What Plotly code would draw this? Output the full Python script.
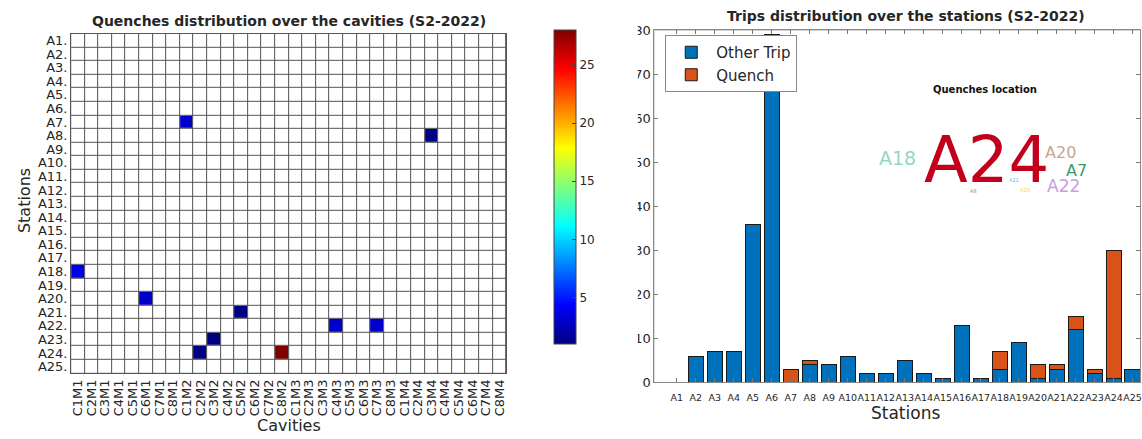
import plotly.graph_objects as go

W, H = 1142, 439
FONT = "DejaVu Sans"
TXT = "#262626"

# ---- data -------------------------------------------------------------
stations = ["A1", "A2", "A3", "A4", "A5", "A6", "A7", "A8", "A9", "A10",
            "A11", "A12", "A13", "A14", "A15", "A16", "A17", "A18", "A19",
            "A20", "A21", "A22", "A23", "A24", "A25"]
station_labels = [s + "." for s in stations]

cavities = ["C1M1", "C2M1", "C3M1", "C4M1", "C5M1", "C6M1", "C7M1", "C8M1",
            "C1M2", "C2M2", "C3M2", "C4M2", "C5M2", "C6M2", "C7M2", "C8M2",
            "C1M3", "C2M3", "C3M3", "C4M3", "C5M3", "C6M3", "C7M3", "C8M3",
            "C1M4", "C2M4", "C3M4", "C4M4", "C5M4", "C6M4", "C7M4", "C8M4"]

# quenches per (station, cavity)
quench_station = ["A7", "A8", "A18", "A20", "A21", "A22", "A22", "A23", "A24", "A24"]
quench_cavity = ["C1M2", "C3M4", "C1M1", "C6M1", "C5M2", "C4M3", "C7M3", "C3M2", "C2M2", "C8M2"]
quench_count = [3, 1, 4, 3, 1, 3, 3, 1, 1, 28]

# trips per station
other_trip = [0, 6, 7, 7, 36, 79, 0, 4, 4, 6, 2, 2, 5, 2, 1, 13, 1, 3, 9, 1, 3, 12, 2, 1, 3]
quench_trip = [0, 0, 0, 0, 0, 0, 3, 1, 0, 0, 0, 0, 0, 0, 0, 0, 0, 4, 0, 3, 1, 3, 1, 29, 0]

# word cloud of quench locations
cloud_words = ["A24", "A18", "A20", "A7", "A22", "A21", "A23", "A8"]
cloud_sizes = [64, 19, 16, 16, 17, 5, 5, 5]
cloud_colors = ["#c2001c", "#93d9bd", "#c9a58a", "#3c9a70", "#c9a0dc", "#4cc4e0", "#dede5a", "#b08050"]
cloud_xy = [(988, 158), (899, 156), (1062, 151), (1078, 169), (1065, 185),
            (1016, 179), (1027, 189), (975, 191)]


def px(x):
    return x / W


def py(y):
    return 1 - y / H


# ---- matrices ---------------------------------------------------------
z_vals = [[None for _ in cavities] for _ in stations]
for s, c, n in zip(quench_station, quench_cavity, quench_count):
    z_vals[stations.index(s)][cavities.index(c)] = n
z_blank = [[0 for _ in cavities] for _ in stations]

jet = [[0.0, "rgb(0,0,128)"], [0.125, "rgb(0,0,255)"], [0.375, "rgb(0,255,255)"],
       [0.625, "rgb(255,255,0)"], [0.875, "rgb(255,0,0)"], [1.0, "rgb(128,0,0)"]]

fig = go.Figure()

fig.add_trace(go.Heatmap(
    z=z_blank, x=cavities, y=station_labels, xaxis="x", yaxis="y",
    colorscale=[[0, "white"], [1, "white"]], showscale=False,
    xgap=1, ygap=1, hoverinfo="skip"))

fig.add_trace(go.Heatmap(
    z=z_vals, x=cavities, y=station_labels, xaxis="x", yaxis="y",
    colorscale=jet, zmin=1, zmax=28, xgap=1, ygap=1, hoverongaps=False,
    colorbar=dict(
        x=px(554), xanchor="left", xpad=0,
        y=py(349), yanchor="bottom", ypad=0,
        len=(349 - 24) / H, lenmode="fraction",
        thickness=22, thicknessmode="pixels",
        outlinewidth=1, outlinecolor="#444",
        tickvals=[5, 10, 15, 20, 25], ticks="inside", ticklen=4,
        tickcolor="#444", tickfont=dict(family=FONT, size=12, color=TXT)),
))

fig.add_trace(go.Bar(
    x=stations, y=other_trip, name="Other Trip", xaxis="x2", yaxis="y2",
    marker=dict(color="#0072BD", line=dict(color="#1a1a1a", width=1)), width=0.8))
fig.add_trace(go.Bar(
    x=stations, y=quench_trip, name="Quench", xaxis="x2", yaxis="y2",
    marker=dict(color="#D95319", line=dict(color="#1a1a1a", width=1)), width=0.8))

annotations = [
    dict(text="<b>Quenches distribution over the cavities (S2-2022)</b>",
         x=px(289), y=py(14), font=dict(size=14, color=TXT)),
    dict(text="<b>Trips distribution over the stations (S2-2022)</b>",
         x=px(907), y=py(9), font=dict(size=14, color=TXT)),
    dict(text="Stations", x=px(23), y=py(200), textangle=-90,
         font=dict(size=16, color=TXT)),
    dict(text="Cavities", x=px(289), y=py(433), font=dict(size=16, color=TXT)),
    dict(text="Stations", x=px(907), y=py(420), font=dict(size=17, color=TXT)),
    dict(text="<b>Quenches location</b>", x=px(987), y=py(85),
         font=dict(size=10, color="#111")),
]
for word, size, color, (wx, wy) in zip(cloud_words, cloud_sizes, cloud_colors, cloud_xy):
    annotations.append(dict(text=word, x=px(wx), y=py(wy),
                            font=dict(size=size, color=color)))
for a in annotations:
    a.update(xref="paper", yref="paper", showarrow=False,
             xanchor="center", yanchor="middle")
    a["font"]["family"] = FONT

fig.update_layout(
    width=W, height=H, autosize=False,
    margin=dict(l=0, r=0, t=0, b=0),
    paper_bgcolor="white", plot_bgcolor="#555555",
    font=dict(family=FONT, color=TXT),
    barmode="stack", bargap=0.2,
    showlegend=True,
    legend=dict(x=px(666), y=py(29), xanchor="left", yanchor="top",
                bgcolor="white", bordercolor="#888", borderwidth=1,
                font=dict(family=FONT, size=15, color=TXT),
                itemwidth=40, tracegroupgap=0, traceorder="normal"),
    xaxis=dict(domain=[px(70.3), px(506.7)], type="category",
               tickmode="linear", dtick=1,
               tickangle=-90, tickfont=dict(size=13, color=TXT),
               showgrid=False, ticks="", showline=True, mirror=True,
               linecolor="#555555", linewidth=1, zeroline=False),
    yaxis=dict(domain=[py(379.3), py(27.7)], type="category",
               tickmode="linear", dtick=1,
               autorange="reversed", tickfont=dict(size=13, color=TXT),
               showgrid=False, ticks="", showline=True, mirror=True,
               linecolor="#555555", linewidth=1, zeroline=False),
    xaxis2=dict(domain=[px(655), 1.0], anchor="y2", type="category",
                tickmode="linear", dtick=1, tickangle=0, ticklabelstandoff=6,
                range=[-1.19, 24.39], tickfont=dict(size=9.5, color=TXT),
                ticks="inside", ticklen=4, tickcolor="#777",
                showline=True, mirror="ticks", linecolor="#888", linewidth=1,
                showgrid=False, zeroline=False),
    yaxis2=dict(domain=[py(388.7), py(24.3)], anchor="x2",
                range=[0, 80], dtick=10, tickfont=dict(size=13, color=TXT),
                ticks="inside", ticklen=4, tickcolor="#777",
                showline=True, mirror="ticks", linecolor="#888", linewidth=1,
                showgrid=False, zeroline=False),
    annotations=annotations,
    shapes=[
        # white plotting area behind the bars
        dict(type="rect", xref="x2 domain", yref="y2 domain", x0=0, x1=1, y0=0, y1=1,
             fillcolor="white", line=dict(width=0), layer="below"),
        # the bar panel's left edge is cut off
        dict(type="rect", xref="paper", yref="paper", x0=px(597), x1=px(638.5), y0=0, y1=1,
             fillcolor="white", line=dict(width=0), layer="above"),
    ],
)

fig.write_html("out.html")
